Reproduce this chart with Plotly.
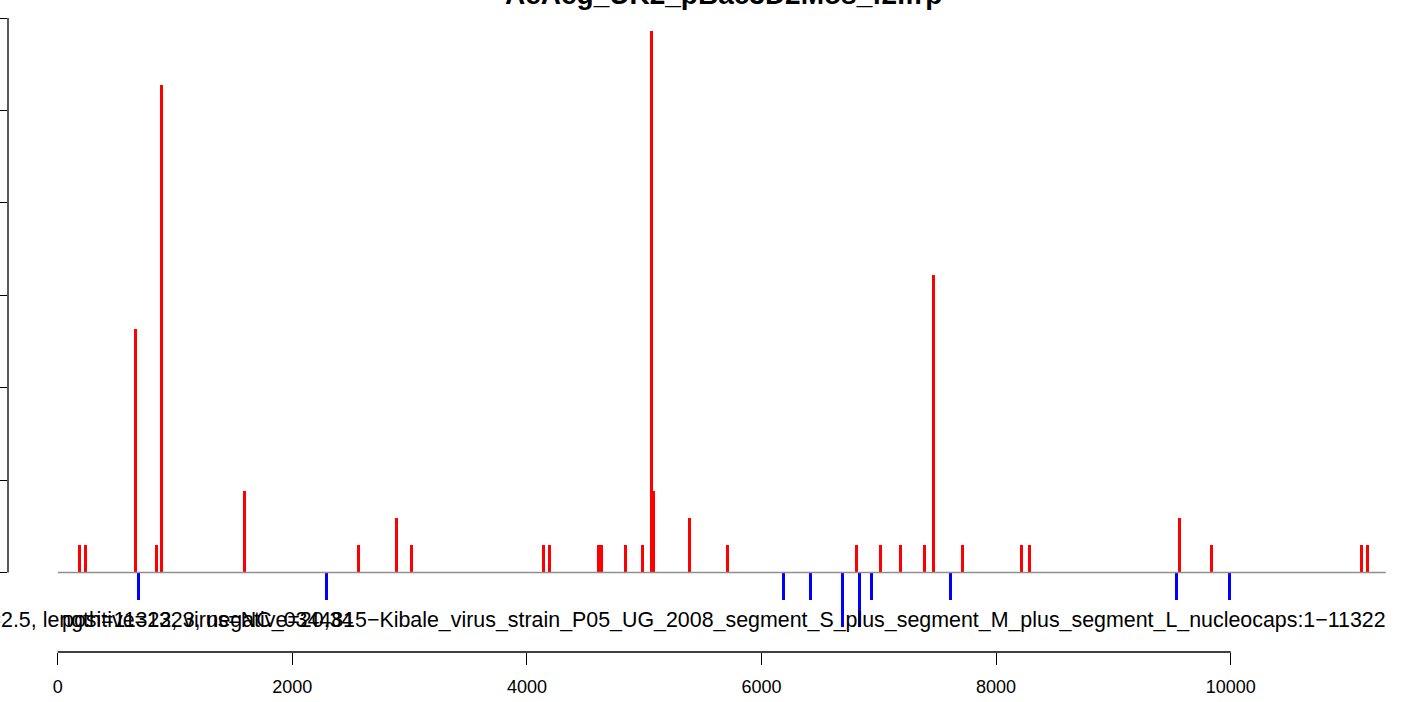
import plotly.graph_objects as go

# ---- data ----
title_text = "AeAeg_UK2_pBac3D2Mos_f2.frp"
xlab_a = ("depth=2.5, length=11322, virus=NC_0344815\u2212Kibale_virus_strain_P05_UG_2008_segment_S_plus_"
          "segment_M_plus_segment_L_nucleocaps:1\u221211322")
xlab_b = "positive=1323, negative=20,34"

red_pos = [182, 233, 659, 842, 884, 1589, 2561, 2885, 3013, 4139, 4190, 4610, 4635, 4839,
           4983, 5058, 5083, 5384, 5708, 6808, 7013, 7184, 7389, 7465, 7713, 8216, 8284,
           9563, 9836, 11116, 11167]
red_h = [1, 1, 9, 1, 18, 3, 1, 2, 1, 1, 1, 1, 1, 1,
         1, 20, 3, 2, 1, 1, 1, 1, 1, 11, 1, 1, 1,
         2, 1, 1, 1]

blue_pos = [685, 2288, 6186, 6416, 6689, 6834, 6936, 7610, 9538, 9990]
blue_h = [1, 1, 1, 1, 2, 2, 1, 1, 1, 1]

seq_start, seq_end = 1, 11322
x_ticks = [0, 2000, 4000, 6000, 8000, 10000]
y_tick_step = 3.412
y_ticks = [round(i * y_tick_step, 3) for i in range(7)]

# ---- layout geometry ----
W, H = 1406, 702
ML, MR, MT, MB = 8, 0, 10, 50
plot_w = W - ML - MR
plot_h = H - MT - MB
px_per_x = 0.1173
x0_px = 57.7
px_per_y = 27.08
y0_px = 572.5

x_range = [(ML - x0_px) / px_per_x, (W - MR - x0_px) / px_per_x]
y_range = [-(H - MB - y0_px) / px_per_y, (y0_px - MT) / px_per_y]
bar_w = 3.0 / px_per_x

FONT = "Liberation Sans, Arial, Helvetica, sans-serif"

fig = go.Figure()

fig.add_trace(go.Scatter(x=[seq_start, seq_end], y=[0, 0], mode="lines",
                         line=dict(color="#8f8f8f", width=1.3), hoverinfo="skip",
                         showlegend=False))
fig.add_trace(go.Bar(x=red_pos, y=red_h, width=bar_w, marker=dict(color="#ff0000", line=dict(width=0)),
                     showlegend=False))
fig.add_trace(go.Bar(x=blue_pos, y=[-v for v in blue_h], width=bar_w,
                     marker=dict(color="#0000ff", line=dict(width=0)), showlegend=False))

fig.update_layout(
    width=W, height=H, autosize=False,
    margin=dict(l=ML, r=MR, t=MT, b=MB, pad=0),
    paper_bgcolor="white", plot_bgcolor="white",
    barmode="overlay", bargap=0,
    font=dict(family=FONT, size=18, color="black"),
    xaxis=dict(range=x_range, tickvals=x_ticks, ticktext=[str(v) for v in x_ticks],
               ticks="outside", ticklen=12, tickwidth=1.3, tickcolor="black",
               showline=False, showgrid=False, zeroline=False, automargin=False,
               tickfont=dict(family=FONT, size=18, color="black"), ticklabelstandoff=6),
    yaxis=dict(range=y_range, tickvals=y_ticks, ticks="outside", ticklen=8, tickwidth=1.3,
               tickcolor="black", showticklabels=False, showline=False, showgrid=False,
               zeroline=False, automargin=False),
)

# axis lines (R style: only between first and last tick)
fig.add_shape(type="line", xref="x", yref="paper", x0=x_ticks[0], x1=x_ticks[-1], y0=0, y1=0,
              line=dict(color="black", width=1.3))
fig.add_shape(type="line", xref="paper", yref="y", x0=0, x1=0, y0=y_ticks[0], y1=y_ticks[-1],
              line=dict(color="black", width=1.3))

def paper_x(px):
    return (px - ML) / plot_w

def paper_y(py):
    return (H - MB - py) / plot_h

# title (clipped at the top like the reference)
fig.add_annotation(text="<b>" + title_text + "</b>", xref="paper", yref="paper",
                   x=paper_x(724), y=paper_y(-6), xanchor="center", yanchor="middle",
                   showarrow=False, font=dict(family=FONT, size=28, color="black"))

# overlapping x labels
fig.add_annotation(text=xlab_a, xref="paper", yref="paper", x=paper_x(1388), y=paper_y(620),
                   xanchor="right", yanchor="middle", showarrow=False,
                   font=dict(family=FONT, size=21.4, color="black"))
fig.add_annotation(text=xlab_b, xref="paper", yref="paper", x=paper_x(60), y=paper_y(620),
                   xanchor="left", yanchor="middle", showarrow=False,
                   font=dict(family=FONT, size=21.4, color="black"))

fig.write_html("out.html", config={"displayModeBar": False},
               post_script="document.body.style.margin='0';document.body.style.overflow='hidden';")
